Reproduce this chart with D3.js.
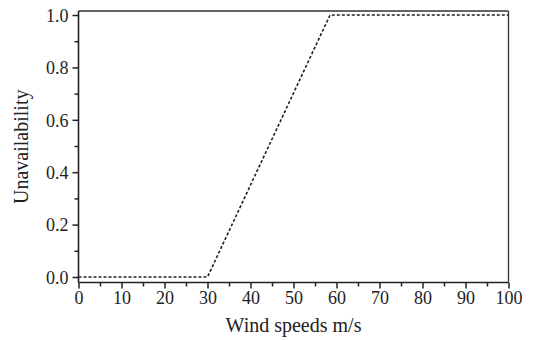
<!DOCTYPE html>
<html><head><meta charset="utf-8">
<script src="https://cdn.jsdelivr.net/npm/d3@7"></script>
<style>body{margin:0;background:#fff}svg text{font-family:"Liberation Serif","Times New Roman",serif;fill:#222}</style>
</head><body><svg id="c" width="535" height="341"></svg>
<script>
const windSpeed = [0, 30, 58.5, 100];
const unavailability = [0, 0, 1, 1];
const xTicks = [0,10,20,30,40,50,60,70,80,90,100];
const yTicks = [0.0,0.2,0.4,0.6,0.8,1.0];
const xLabel = "Wind speeds m/s";
const yLabel = "Unavailability";

const svg = d3.select("#c");
const L=78.5, R=508.5, T=11, B=282.5;
const x = d3.scaleLinear().domain([0,100]).range([L,R]);
const y = d3.scaleLinear().domain([0,1]).range([277,15]);

// frame top/right
svg.append("line").attr("x1",L).attr("x2",R).attr("y1",T).attr("y2",T).attr("stroke","#333").attr("stroke-width",1.3);
svg.append("line").attr("x1",R).attr("x2",R).attr("y1",T).attr("y2",B).attr("stroke","#333").attr("stroke-width",1.3);

// x axis
const xa = svg.append("g").attr("transform",`translate(0,${B})`)
  .call(d3.axisBottom(x).tickValues(xTicks).tickFormat(d3.format("d")).tickSize(6).tickSizeOuter(0));
const xm = svg.append("g").attr("transform",`translate(0,${B})`)
  .call(d3.axisBottom(x).tickValues(d3.range(5,100,10)).tickFormat("").tickSize(4).tickSizeOuter(0));
xm.select(".domain").remove();
// y axis
const ya = svg.append("g").attr("transform",`translate(${L},0)`)
  .call(d3.axisLeft(y).tickValues(yTicks).tickFormat(d3.format(".1f")).tickSize(6).tickSizeOuter(0));
const ym = svg.append("g").attr("transform",`translate(${L},0)`)
  .call(d3.axisLeft(y).tickValues(d3.range(0.1,1,0.2)).tickFormat("").tickSize(4).tickSizeOuter(0));
ym.select(".domain").remove();
ya.select(".domain").attr("d",`M0,${T}V${B}`);
xa.select(".domain").attr("d",`M${L},0H${R}`);
svg.selectAll(".domain").attr("stroke","#222").attr("stroke-width",1.6);
svg.selectAll(".tick line").attr("stroke","#222").attr("stroke-width",1.5);
xa.selectAll("text").attr("font-size",18).attr("dy","0.85em").attr("y",6);
ya.selectAll("text").attr("font-size",18).attr("x",-10).attr("dy","0.35em");

// line
svg.append("path")
  .datum(windSpeed.map((d,i)=>[d,unavailability[i]]))
  .attr("fill","none").attr("stroke","#222").attr("stroke-width",1.6)
  .attr("stroke-dasharray","3,2")
  .attr("d", d3.line().x(d=>x(d[0])).y(d=>y(d[1])));

svg.append("text").attr("x",(L+R)/2).attr("y",332).attr("text-anchor","middle").attr("font-size",20).text(xLabel);
svg.append("text").attr("transform",`translate(28,${(T+B)/2}) rotate(-90)`).attr("text-anchor","middle").attr("font-size",20).text(yLabel);
</script></body></html>
